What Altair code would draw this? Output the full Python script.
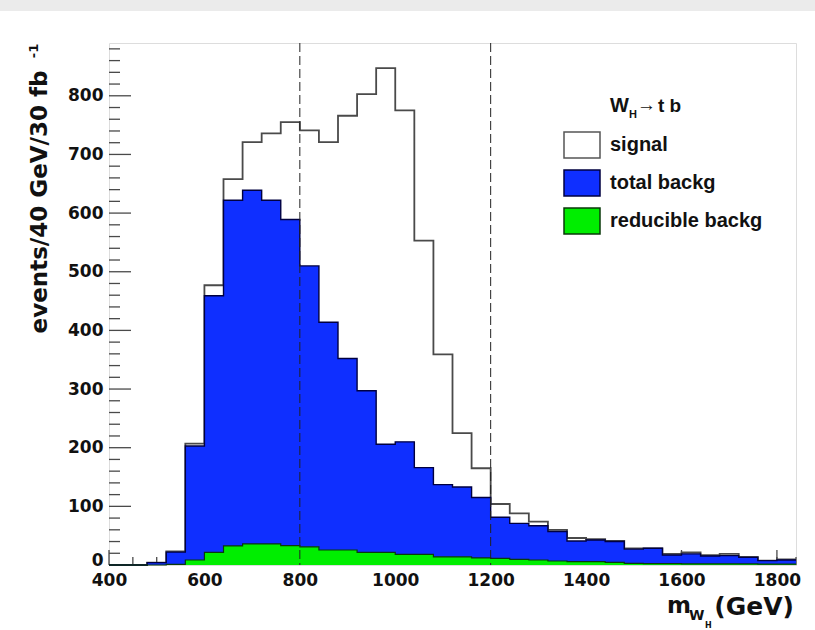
import altair as alt
import pandas as pd

# ---- data ----
bin_start = [400, 440, 480, 520, 560, 600, 640, 680, 720, 760, 800, 840, 880, 920,
             960, 1000, 1040, 1080, 1120, 1160, 1200, 1240, 1280, 1320, 1360, 1400,
             1440, 1480, 1520, 1560, 1600, 1640, 1680, 1720, 1760, 1800]
x_end = 1840

signal = [0, 0, 4, 23, 207, 477, 658, 721, 736, 755, 741, 721, 766, 803, 847, 775,
          553, 359, 225, 165, 104, 88, 74, 60, 46, 44, 41, 28.5, 28.5, 19, 21.6, 17,
          19, 14, 7.4, 9.7]
total_bkg = [0, 0, 4, 22, 203, 459, 622, 639, 622, 589, 510, 414, 352, 297, 206, 210,
             166, 137, 133, 115, 81.5, 71, 67, 57, 41, 42.7, 40, 27, 28.5, 17, 19, 15.4,
             16, 13, 7.4, 8.5]
reducible_bkg = [0, 0, 0, 1, 8.5, 21.6, 32.5, 36, 36, 33, 31, 25.6, 25.6, 21.6, 21.6,
                 18, 18, 14, 14, 12, 11.4, 9.7, 8.5, 6.8, 5.7, 5.7, 4.6, 2.8, 2.5, 2.3,
                 2, 2, 2, 1.8, 1.5, 1.5]

cut_lines = [800, 1200]
x_major = [400, 600, 800, 1000, 1200, 1400, 1600, 1800]
x_minor = [450, 500, 550, 650, 700, 750, 850, 900, 950, 1050, 1100, 1150, 1250, 1300,
           1350, 1450, 1500, 1550, 1650, 1700, 1750, 1800, 1840]
y_major = [0, 100, 200, 300, 400, 500, 600, 700, 800]
y_minor = [20, 40, 60, 80, 120, 140, 160, 180, 220, 240, 260, 280, 320, 340, 360, 380,
           420, 440, 460, 480, 520, 540, 560, 580, 620, 640, 660, 680, 720, 740, 760,
           780, 820, 840, 860, 880]
legend_labels = ["signal", "total backg", "reducible backg"]

X_DOMAIN = [400, 1840]
Y_DOMAIN = [0, 890]
W, H = 687, 522

BLUE = "#0f2fff"
GREEN = "#00ee00"
NAVY = "#000040"
GRAY = "#4a4a4a"
AXF = "DejaVu Sans"
LGF = "Liberation Sans"


def steps(vals):
    return pd.DataFrame({"x": bin_start + [x_end], "y": vals + [vals[-1]]})


xs = alt.Scale(domain=X_DOMAIN, nice=False, zero=False)
ys = alt.Scale(domain=Y_DOMAIN, nice=False, zero=True)

xax = alt.Axis(values=x_major, title=None, grid=False, domain=False, ticks=False, format="d",
               labelFont=AXF, labelFontWeight="bold", labelFontSize=17,
               labelColor="#111", labelPadding=7, labelFlush=False, labelOverlap=False)
yax = alt.Axis(values=y_major, title=None, grid=False, domain=False, ticks=False, format="d",
               labelFont=AXF, labelFontWeight="bold", labelFontSize=17,
               labelColor="#111", labelPadding=6, labelOverlap=False,
               labelBaseline=alt.expr("datum.value == 0 ? 'alphabetic' : 'middle'"))

# top grey band of the page
band = alt.Chart(pd.DataFrame({"a": [0]})).mark_rect(color="#ebebeb").encode(
    x=alt.value(-109), x2=alt.value(706), y=alt.value(-43), y2=alt.value(-32))

# inside ticks
ytick_major = alt.Chart(pd.DataFrame({"v": y_major})).mark_rule(color=GRAY, strokeWidth=1.3).encode(
    y=alt.Y("v:Q", scale=ys, axis=yax), x=alt.value(0), x2=alt.value(22))
ytick_minor = alt.Chart(pd.DataFrame({"v": y_minor})).mark_rule(color=GRAY, strokeWidth=1.3).encode(
    y=alt.Y("v:Q", scale=ys), x=alt.value(0), x2=alt.value(11))
xtick_major = alt.Chart(pd.DataFrame({"v": x_major})).mark_rule(color=GRAY, strokeWidth=1.3).encode(
    x=alt.X("v:Q", scale=xs, axis=xax), y=alt.value(H), y2=alt.value(H - 15))
xtick_minor = alt.Chart(pd.DataFrame({"v": x_minor})).mark_rule(color=GRAY, strokeWidth=1.3).encode(
    x=alt.X("v:Q", scale=xs), y=alt.value(H), y2=alt.value(H - 8))


def area(vals, color):
    return alt.Chart(steps(vals)).mark_area(interpolate="step-after", color=color, opacity=1).encode(
        x=alt.X("x:Q", scale=xs), y=alt.Y("y:Q", scale=ys), y2=alt.datum(0))


def line(vals, color, w=1.6):
    return alt.Chart(steps(vals)).mark_line(interpolate="step-after", color=color, strokeWidth=w).encode(
        x=alt.X("x:Q", scale=xs), y=alt.Y("y:Q", scale=ys))


sig_line = line(signal, "#4a4a4a", 1.8)
bkg_area = area(total_bkg, BLUE)
bkg_line = line(total_bkg, NAVY, 1.4)
red_area = area(reducible_bkg, GREEN)
red_line = line(reducible_bkg, "#0a3a0a", 1.2)

cuts = alt.Chart(pd.DataFrame({"c": cut_lines})).mark_rule(
    color="#222", strokeWidth=1, strokeDash=[9, 4]).encode(x=alt.X("c:Q", scale=xs))

# legend (manual, ROOT style)
leg_layers = []
fills = ["white", BLUE, GREEN]
strokes = ["#555555", NAVY, "#0a3a0a"]
for i, lab in enumerate(legend_labels):
    top = 89 + 38 * i
    leg_layers.append(alt.Chart(pd.DataFrame({"a": [0]})).mark_rect(
        fill=fills[i], stroke=strokes[i], strokeWidth=1.5).encode(
        x=alt.value(455), x2=alt.value(491), y=alt.value(top), y2=alt.value(top + 26)))
    leg_layers.append(alt.Chart(pd.DataFrame({"t": [lab]})).mark_text(
        font=LGF, fontWeight="bold", fontSize=20, align="left", baseline="middle", color="#111").encode(
        text="t:N", x=alt.value(501), y=alt.value(top + 13)))


def txt(s, x, y, size, font=LGF, align="left", baseline="alphabetic", angle=0):
    kw = dict(font=font, fontWeight="bold", fontSize=size, align=align, baseline=baseline, color="#111")
    if angle:
        kw["angle"] = angle
    return alt.Chart(pd.DataFrame({"t": [s]})).mark_text(**kw).encode(
        text="t:N", x=alt.value(x), y=alt.value(y))


leg_title = [txt("W", 501, 69, 20), txt("H", 520, 75, 11),
             txt("\u2192", 528, 68, 19), txt("t b", 549, 69, 19)]

xtitle = [txt("m", 558, 570, 23, AXF), txt("W", 580, 577, 14, AXF), txt("H", 596, 585, 8, AXF),
          txt("(GeV)", 685, 572, 25, AXF, align="right")]
ytitle = [txt("events/40 GeV/30 fb", -69, 159, 23, AXF, align="center", baseline="middle", angle=270),
          txt("-1", -75, 8, 13, AXF, align="center", baseline="middle", angle=270)]

chart = alt.layer(
    band, ytick_major, ytick_minor, xtick_major, xtick_minor,
    sig_line, bkg_area, bkg_line, red_area, red_line, cuts,
    *leg_layers, *leg_title, *xtitle, *ytitle
).properties(
    width=W, height=H,
    padding={"left": 109, "top": 43, "right": 19, "bottom": 65},
    autosize=alt.AutoSizeParams(type="none"),
).configure_view(
    stroke="#555555", strokeWidth=1.8, fill="white"
).configure(background="white")

chart.save("out.html", embed_options={"renderer": "svg", "actions": False})
